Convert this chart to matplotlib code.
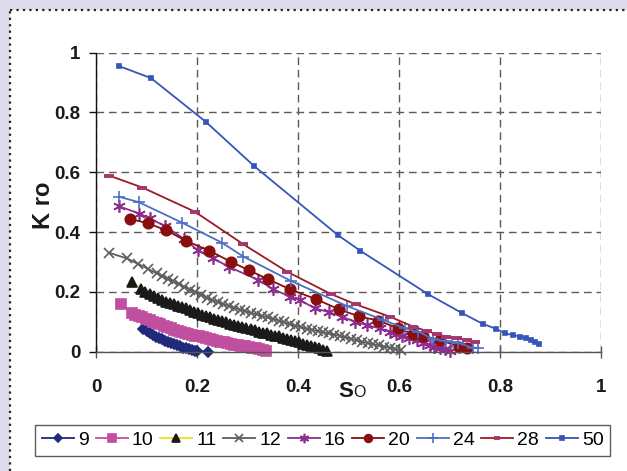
import matplotlib
matplotlib.use("Agg")
import matplotlib.pyplot as plt
from matplotlib.lines import Line2D
from matplotlib.patches import Rectangle

plt.rcParams["font.family"] = ["Liberation Sans", "DejaVu Sans"]

# --- data ---
x9 = [0.094, 0.1, 0.106, 0.112, 0.118, 0.124, 0.13, 0.136, 0.142, 0.148, 0.154,
      0.16, 0.166, 0.172, 0.178, 0.184, 0.19, 0.196, 0.2, 0.222]
y9 = [0.075, 0.068, 0.061, 0.055, 0.05, 0.045, 0.041, 0.037, 0.033, 0.029, 0.025,
      0.021, 0.018, 0.014, 0.011, 0.008, 0.005, 0.003, 0.002, 0.0]

x10 = [0.05, 0.071, 0.078, 0.085, 0.092, 0.099, 0.106, 0.113, 0.12, 0.127, 0.134,
       0.141, 0.148, 0.155, 0.162, 0.169, 0.176, 0.183, 0.19, 0.197, 0.204, 0.211,
       0.218, 0.225, 0.232, 0.239, 0.246, 0.253, 0.26, 0.267, 0.274, 0.281, 0.288,
       0.295, 0.302, 0.309, 0.316, 0.323, 0.33, 0.336]
y10 = [0.16, 0.128, 0.123, 0.119, 0.115, 0.111, 0.106, 0.101, 0.096, 0.091, 0.087,
       0.082, 0.078, 0.074, 0.07, 0.066, 0.063, 0.06, 0.057, 0.054, 0.051, 0.048,
       0.045, 0.042, 0.039, 0.036, 0.034, 0.031, 0.029, 0.027, 0.024, 0.022, 0.02,
       0.018, 0.016, 0.013, 0.011, 0.009, 0.006, 0.004]

x11 = [0.071, 0.09, 0.098, 0.106, 0.114, 0.122, 0.13, 0.138, 0.146, 0.154, 0.162,
       0.17, 0.178, 0.186, 0.194, 0.202, 0.21, 0.218, 0.226, 0.234, 0.242, 0.25,
       0.258, 0.266, 0.274, 0.282, 0.29, 0.298, 0.306, 0.314, 0.322, 0.33, 0.338,
       0.346, 0.354, 0.362, 0.37, 0.378, 0.386, 0.394, 0.402, 0.41, 0.418, 0.426,
       0.434, 0.442, 0.45, 0.458]
y11 = [0.232, 0.209, 0.201, 0.193, 0.186, 0.179, 0.172, 0.167, 0.162, 0.158, 0.154,
       0.15, 0.145, 0.14, 0.134, 0.129, 0.124, 0.12, 0.115, 0.111, 0.106, 0.102,
       0.098, 0.094, 0.09, 0.086, 0.082, 0.078, 0.075, 0.071, 0.067, 0.064, 0.061,
       0.057, 0.054, 0.051, 0.047, 0.043, 0.039, 0.035, 0.031, 0.027, 0.024, 0.02,
       0.016, 0.011, 0.007, 0.003]

x12 = [0.026, 0.061, 0.084, 0.102, 0.12, 0.131, 0.142, 0.153, 0.164, 0.175, 0.186,
       0.197, 0.208, 0.219, 0.23, 0.241, 0.252, 0.263, 0.274, 0.285, 0.296, 0.307,
       0.318, 0.329, 0.34, 0.351, 0.362, 0.373, 0.384, 0.395, 0.406, 0.417, 0.428,
       0.439, 0.45, 0.461, 0.472, 0.483, 0.494, 0.505, 0.516, 0.527, 0.538, 0.549,
       0.56, 0.571, 0.582, 0.593, 0.604]
y12 = [0.331, 0.312, 0.293, 0.278, 0.262, 0.253, 0.244, 0.235, 0.226, 0.217, 0.208,
       0.199, 0.19, 0.181, 0.173, 0.166, 0.159, 0.153, 0.147, 0.141, 0.135, 0.13,
       0.125, 0.12, 0.115, 0.11, 0.104, 0.098, 0.092, 0.087, 0.082, 0.077, 0.073,
       0.069, 0.065, 0.061, 0.057, 0.053, 0.048, 0.043, 0.038, 0.033, 0.029, 0.025,
       0.021, 0.017, 0.013, 0.009, 0.005]

x16 = [0.046, 0.086, 0.106, 0.137, 0.175, 0.201, 0.232, 0.263, 0.321, 0.351, 0.384,
       0.403, 0.434, 0.462, 0.487, 0.513, 0.536, 0.562, 0.582, 0.595, 0.605, 0.62,
       0.635, 0.648, 0.661, 0.67, 0.681, 0.692, 0.70]
y16 = [0.486, 0.462, 0.446, 0.42, 0.376, 0.34, 0.312, 0.284, 0.24, 0.209, 0.184,
       0.173, 0.145, 0.132, 0.117, 0.10, 0.089, 0.078, 0.067, 0.06, 0.052, 0.046,
       0.039, 0.03, 0.022, 0.017, 0.011, 0.008, 0.004]

x20 = [0.067, 0.102, 0.139, 0.178, 0.224, 0.267, 0.302, 0.34, 0.384, 0.435, 0.481,
       0.521, 0.559, 0.599, 0.628, 0.648, 0.681, 0.718, 0.734]
y20 = [0.444, 0.43, 0.406, 0.371, 0.338, 0.301, 0.273, 0.243, 0.209, 0.176, 0.142,
       0.118, 0.104, 0.078, 0.059, 0.052, 0.039, 0.017, 0.011]

x24 = [0.046, 0.085, 0.171, 0.249, 0.292, 0.387, 0.498, 0.569, 0.612, 0.638, 0.668,
       0.691, 0.704, 0.717, 0.747, 0.757]
y24 = [0.518, 0.50, 0.431, 0.365, 0.318, 0.236, 0.152, 0.106, 0.078, 0.067, 0.042,
       0.036, 0.031, 0.029, 0.013, 0.013]

x28 = [0.026, 0.092, 0.196, 0.292, 0.378, 0.465, 0.515, 0.582, 0.628, 0.655, 0.675,
       0.694, 0.714, 0.734, 0.75]
y28 = [0.589, 0.549, 0.468, 0.359, 0.268, 0.193, 0.158, 0.117, 0.084, 0.069, 0.059,
       0.05, 0.045, 0.039, 0.033]

x50 = [0.046, 0.109, 0.218, 0.313, 0.479, 0.523, 0.657, 0.725, 0.766, 0.793, 0.81,
       0.826, 0.84, 0.851, 0.861, 0.869, 0.877]
y50 = [0.955, 0.915, 0.768, 0.621, 0.39, 0.338, 0.193, 0.129, 0.093, 0.076, 0.061,
       0.056, 0.05, 0.045, 0.039, 0.032, 0.026]

tick_vals = [0, 0.2, 0.4, 0.6, 0.8, 1]
tick_labels = ["0", "0.2", "0.4", "0.6", "0.8", "1"]

# label, x, y, line colour, marker, marker size, marker colour
series = [
    ("9", x9, y9, "#1f2a7a", "D", 5.5, "#1f2a7a"),
    ("10", x10, y10, "#c04fa0", "s", 6.8, "#c04fa0"),
    ("11", x11, y11, "#f0e010", "^", 7.5, "#1a1a1a"),
    ("12", x12, y12, "#5e5e5e", "x", 7.5, "#5e5e5e"),
    ("16", x16, y16, "#8d2d8d", (6, 2, 0), 9, "#8d2d8d"),
    ("20", x20, y20, "#8b0e0e", "o", 7.5, "#8b0e0e"),
    ("24", x24, y24, "#4b6fc6", "+", 9, "#4b6fc6"),
    ("28", x28, y28, "#9b1c22", "_", 6.5, "#a8346e"),
    ("50", x50, y50, "#3555b8", "s", 3, "#3555b8"),
]

W, H = 627, 471
fig = plt.figure(figsize=(W / 100, H / 100), dpi=100)
fig.patch.set_facecolor("#dedcec")

# white chart area with dotted border on top/left
fig.patches.append(Rectangle((10 / W, 0), 1, 1 - 10 / H, transform=fig.transFigure,
                             facecolor="white", edgecolor="none", zorder=-10))
fig.lines.append(Line2D([10 / W, 1], [1 - 10 / H, 1 - 10 / H], transform=fig.transFigure,
                        color="#222", lw=1.6, linestyle=(0, (1.0, 1.9)), zorder=-5))
fig.lines.append(Line2D([10 / W, 10 / W], [0, 1 - 10 / H], transform=fig.transFigure,
                        color="#222", lw=1.6, linestyle=(0, (1.0, 1.9)), zorder=-5))

ax = fig.add_axes([96 / W, 1 - 351.7 / H, 505 / W, 299 / H])
ax.set_facecolor("none")

handles = []
for label, xs, ys, lc, mk, ms, mc in series:
    mew = 2.8 if mk == "_" else 1.2
    ln, = ax.plot(xs, ys, color=lc, lw=1.3, marker=mk, markersize=ms,
                  markerfacecolor=mc, markeredgecolor=mc, markeredgewidth=mew,
                  clip_on=False, label=label)
    handles.append(ln)

ax.set_xlim(0, 1)
ax.set_ylim(0, 1)
ax.set_xticks(tick_vals)
ax.set_xticklabels(tick_labels)
ax.set_yticks(tick_vals)
ax.set_yticklabels(tick_labels)
ax.grid(True, color="#5a5a5a", lw=1.0, linestyle=(0, (5.5, 3.5)))
ax.set_axisbelow(True)

for s in ("top", "right"):
    ax.spines[s].set_visible(False)
ax.spines["left"].set_color("#111")
ax.spines["bottom"].set_color("#555")
ax.spines["left"].set_linewidth(1.0)
ax.spines["bottom"].set_linewidth(1.0)

ax.tick_params(axis="y", direction="out", length=5, width=1, color="#111", pad=6,
               labelsize=13.5)
ax.tick_params(axis="x", direction="inout", length=8, width=1, color="#555", pad=16,
               labelsize=13.5)
for t in ax.get_xticklabels() + ax.get_yticklabels():
    t.set_fontweight("bold")
    t.set_color("#1a1a1a")

fig.text(43 / W, 1 - 205 / H, "K ro", rotation=90, ha="center", va="center",
         fontsize=17, fontweight="bold", color="#1a1a1a")
fig.text(346 / W, 1 - 397 / H, "S", ha="center", va="baseline",
         fontsize=16, fontweight="bold", color="#1a1a1a")
fig.text(359 / W, 1 - 397 / H, "O", ha="center", va="baseline",
         fontsize=11.5, color="#1a1a1a")

leg = fig.legend(handles=handles, loc="center", ncol=9,
                 bbox_to_anchor=((33 + 612.7) / 2 / W, 1 - 440.3 / H),
                 fontsize=14, frameon=True, fancybox=False, shadow=False,
                 handlelength=1.65, handletextpad=0.2, columnspacing=0.35,
                 borderpad=0.35, borderaxespad=0, markerscale=0.75)
leg.get_frame().set_edgecolor("#333")
leg.get_frame().set_linewidth(1.0)

fig.savefig("out.png", dpi=100, facecolor=fig.get_facecolor())
